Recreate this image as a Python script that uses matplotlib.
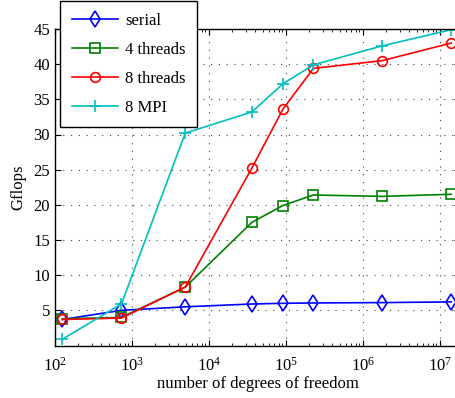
import numpy as np
import matplotlib
matplotlib.use("Agg")
import matplotlib.pyplot as plt
from matplotlib.ticker import LogLocator, NullFormatter

plt.rcParams["font.family"] = ["Liberation Serif", "DejaVu Serif"]
plt.rcParams["mathtext.fontset"] = "stix"

# degrees of freedom (n^3 grids)
dofs = [125, 729, 4913, 35937, 91125, 226981, 1771561, 13997521]

serial = [3.7, 5.0, 5.5, 5.9, 6.0, 6.05, 6.1, 6.2]
threads4 = [3.8, 4.0, 8.3, 17.5, 19.9, 21.4, 21.2, 21.5]
threads8 = [3.7, 3.9, 8.3, 25.2, 33.6, 39.4, 40.5, 43.0]
mpi8 = [0.9, 5.9, 30.2, 33.2, 37.2, 39.9, 42.6, 44.9]

series = [
    ("serial", serial, "#0000ff", "d", 8.5),
    ("4 threads", threads4, "#008000", "s", 7),
    ("8 threads", threads8, "#ff0000", "o", 7),
    ("8 MPI", mpi8, "#00bfbf", "+", 9),
]

fig = plt.figure(figsize=(4.55, 3.98), dpi=100)
ax = fig.add_axes([55 / 455, 1 - 345.5 / 398, 405 / 455, (345.5 - 29) / 398])

for label, vals, col, mk, ms in series:
    ax.plot(dofs, vals, color=col, marker=mk, markersize=ms,
            markerfacecolor="none", markeredgecolor=col,
            markeredgewidth=1.2, linewidth=1.2, label=label)

ax.set_xscale("log")
ax.set_xlim(1e2, 10 ** (2 + 405 / 77))
ax.set_ylim(0, 45)
ax.set_yticks([5, 10, 15, 20, 25, 30, 35, 40, 45])
ax.set_xticks([1e2, 1e3, 1e4, 1e5, 1e6, 1e7])
ax.xaxis.set_minor_locator(LogLocator(base=10, subs=np.arange(2, 10)))
ax.xaxis.set_minor_formatter(NullFormatter())

ax.grid(True, which="major", linestyle=(0, (1, 6)), color="#404040",
        linewidth=0.8)
ax.tick_params(which="both", direction="in", top=True, right=True,
               labelsize=12)
ax.tick_params(which="major", length=4)
ax.tick_params(which="minor", length=2)
ax.tick_params(axis="x", which="major", pad=8)
for sp in ax.spines.values():
    sp.set_linewidth(1.0)

ax.set_xlabel("number of degrees of freedom", fontsize=12, labelpad=1)
ax.set_ylabel("Gflops", fontsize=12, labelpad=5)

leg = ax.legend(loc="upper left", bbox_to_anchor=(60 / 455, 1 - 1 / 398),
                bbox_transform=fig.transFigure, borderaxespad=0,
                fontsize=12, fancybox=False, framealpha=1,
                edgecolor="black", handlelength=2.8, handletextpad=0.4,
                borderpad=0.7, labelspacing=0.78)
leg.get_frame().set_linewidth(1.0)

fig.savefig("out.png", dpi=100)
